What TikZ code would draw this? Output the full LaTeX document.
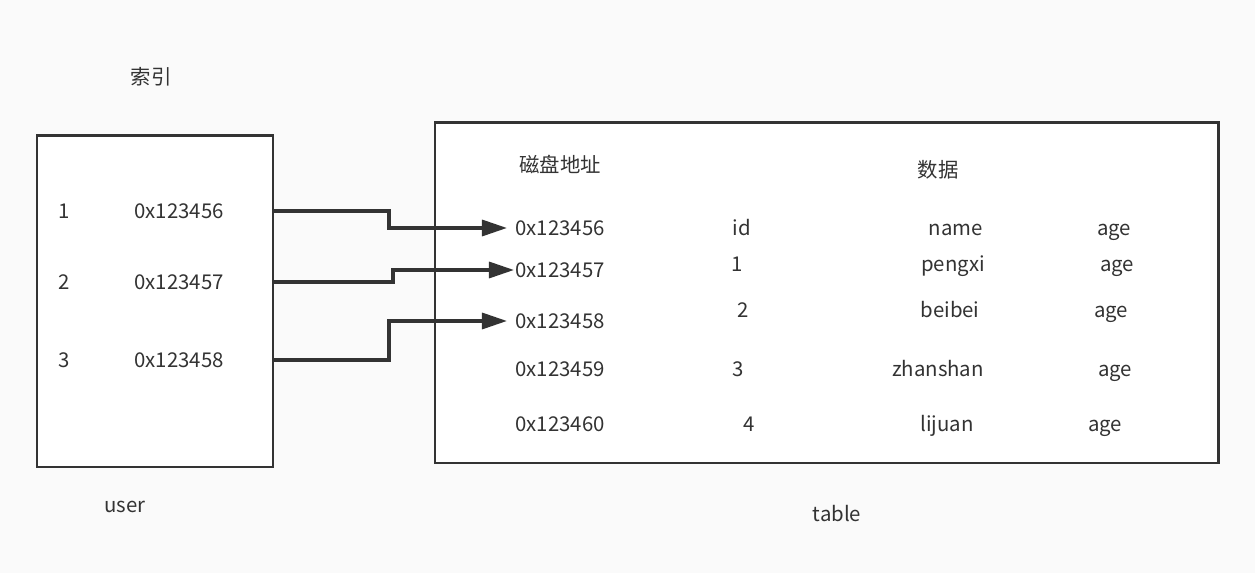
\documentclass[tikz,border=0pt]{standalone}
\usepackage{fontspec}
\setmainfont{Noto Sans CJK SC}
\usepackage{tikz}
\usetikzlibrary{arrows.meta,positioning}
\definecolor{ink}{HTML}{333333}
\definecolor{paper}{HTML}{FAFAFA}

\begin{document}
\begin{tikzpicture}[x=0.02cm, y=-0.02cm,
  txt/.style={inner sep=0pt, text=ink, font=\fontsize{11.6}{13}\selectfont, text height=8.4pt, text depth=0pt},
  box/.style={draw=ink, line width=1.7pt, fill=white},
  link/.style={draw=ink, line width=1.9pt, -{Triangle[length=0.5cm, width=0.32cm]}}]

\useasboundingbox[fill=paper] (0,0) rectangle (1255,573);

% index box
\node[txt] (idxtitle) at (151,77) {索引};
\draw[box] (37,136) rectangle (273,467);
\coordinate (uedge) at (273,0);
\foreach \i/\y/\addr in {1/211/0x123456, 2/282/0x123457, 3/360/0x123458}{
  \node[txt] (k\i) at (64,\y) {\i};
  \node[txt] (u\i) at (179,\y) {\addr};
}
\node[txt] (user) at (125,505) {user};

% table box
\draw[box] (435,123) rectangle (1218,463);
\node[txt] (disk) at (560,165) {磁盘地址};
\node[txt] (data) at (938,170) {数据};
\foreach \r/\ya/\yb/\addr/\xi/\id/\xn/\nm/\xa in {
  0/228/228/0x123456/742/id/956/name/1114,
  1/270/264/0x123457/737/1/953/pengxi/1117,
  2/321/310/0x123458/743/2/950/beibei/1111,
  3/369/369/0x123459/738/3/938/zhanshan/1115,
  4/424/424/0x123460/749/4/947/lijuan/1105}{
  \node[txt] (t\r) at (560,\ya) {\addr};
  \node[txt] (id\r) at (\xi,\yb) {\id};
  \node[txt] (nm\r) at (\xn,\yb) {\nm};
  \node[txt] (age\r) at (\xa,\yb) {age};
}
\node[txt] (table) at (837,514) {table};

% pointers
\coordinate (b1) at (389,0);
\coordinate (b2) at (393,0);
\coordinate (b3) at (389,0);
\draw[link] (uedge |- u1) -| (b1 |- t0) -- ([xshift=-0.16cm]t0.west);
\draw[link] (uedge |- u2) -| (b2 |- t1) -- ([xshift=-0.02cm]t1.west);
\draw[link] (uedge |- u3) -| (b3 |- t2) -- ([xshift=-0.16cm]t2.west);
\end{tikzpicture}
\end{document}
